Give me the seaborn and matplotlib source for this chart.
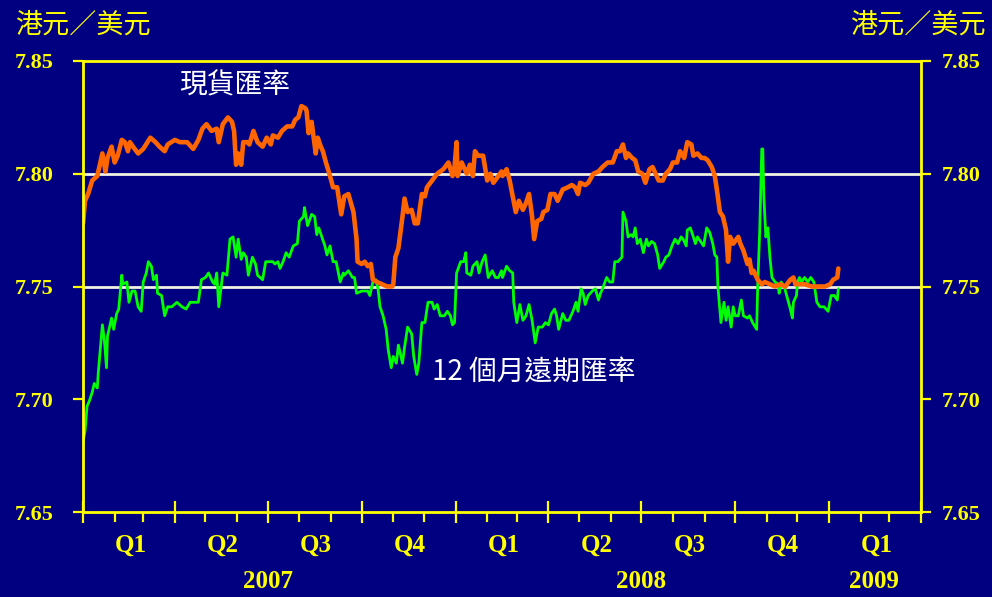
import matplotlib
matplotlib.use("Agg")
import matplotlib.pyplot as plt
import matplotlib.dates as mdates
import matplotlib.ticker as mticker
import pandas as pd
import seaborn as sns

# HKD per USD. days = days counted from 2007-01-01
spot_days = [0, 2, 5, 9, 14, 19, 22, 24, 28, 31,
             34, 38, 41, 44, 46, 49, 54, 59, 66, 71,
             75, 80, 83, 90, 95, 102, 108, 113, 117, 121,
             126, 131, 133, 137, 142, 146, 148, 150, 152, 155,
             157, 161, 163, 167, 171, 176, 180, 184, 186, 191,
             195, 200, 205, 208, 211, 214, 218, 219, 221, 224,
             226, 228, 230, 233, 235, 238, 242, 245, 249, 253,
             256, 260, 265, 268, 269, 273, 276, 279, 282, 284,
             288, 293, 298, 303, 304, 306, 309, 313, 315, 318,
             322, 325, 328, 332, 335, 337, 342, 347, 353, 358,
             362, 364, 366, 367, 371, 376, 379, 382, 384, 387,
             392, 396, 399, 402, 407, 410, 411, 415, 418, 421,
             424, 427, 431, 434, 437, 440, 442, 445, 449, 451,
             455, 458, 462, 465, 470, 475, 479, 482, 485, 487,
             492, 495, 500, 505, 509, 514, 519, 523, 526, 529,
             532, 534, 538, 541, 544, 548, 551, 555, 558, 561,
             564, 568, 571, 575, 578, 582, 585, 589, 592, 596,
             598, 602, 606, 609, 612, 616, 619, 621, 624, 627,
             630, 632, 634, 637, 642, 644, 647, 651, 653, 655,
             657, 661, 665, 668, 673, 678, 683, 688, 693, 696,
             698, 702, 707, 714, 720, 727, 732, 735, 739, 740]
spot_rate = [7.778, 7.788, 7.791, 7.797, 7.799, 7.809, 7.801, 7.807, 7.812, 7.805,
             7.808, 7.815, 7.814, 7.810, 7.814, 7.812, 7.809, 7.811, 7.816, 7.814,
             7.812, 7.810, 7.813, 7.815, 7.814, 7.814, 7.811, 7.815, 7.820, 7.822,
             7.819, 7.820, 7.814, 7.822, 7.825, 7.823, 7.819, 7.804, 7.809, 7.804,
             7.814, 7.814, 7.813, 7.819, 7.814, 7.812, 7.816, 7.813, 7.817, 7.816,
             7.819, 7.821, 7.821, 7.824, 7.825, 7.830, 7.829, 7.828, 7.818, 7.823,
             7.816, 7.809, 7.816, 7.812, 7.810, 7.805, 7.799, 7.794, 7.794, 7.782,
             7.790, 7.791, 7.783, 7.771, 7.761, 7.760, 7.761, 7.759, 7.760, 7.753,
             7.752, 7.751, 7.750, 7.750, 7.751, 7.763, 7.767, 7.781, 7.789, 7.783,
             7.784, 7.778, 7.778, 7.791, 7.790, 7.794, 7.797, 7.800, 7.802, 7.805,
             7.799, 7.803, 7.814, 7.799, 7.805, 7.800, 7.804, 7.799, 7.810, 7.808,
             7.808, 7.797, 7.800, 7.796, 7.799, 7.801, 7.799, 7.802, 7.797, 7.790,
             7.783, 7.788, 7.784, 7.787, 7.791, 7.781, 7.771, 7.779, 7.780, 7.783,
             7.784, 7.791, 7.791, 7.788, 7.793, 7.794, 7.795, 7.794, 7.791, 7.796,
             7.795, 7.796, 7.800, 7.801, 7.803, 7.805, 7.805, 7.810, 7.810, 7.813,
             7.807, 7.809, 7.807, 7.806, 7.801, 7.800, 7.796, 7.802, 7.803, 7.800,
             7.797, 7.797, 7.800, 7.802, 7.805, 7.805, 7.810, 7.807, 7.814, 7.813,
             7.808, 7.809, 7.807, 7.807, 7.806, 7.803, 7.799, 7.793, 7.783, 7.781,
             7.775, 7.761, 7.772, 7.769, 7.772, 7.769, 7.766, 7.760, 7.762, 7.756,
             7.757, 7.753, 7.751, 7.752, 7.751, 7.750, 7.751, 7.750, 7.753, 7.754,
             7.751, 7.751, 7.751, 7.750, 7.750, 7.750, 7.751, 7.753, 7.754, 7.758]

fwd_days = [0, 2, 4, 6, 9, 11, 14, 15, 19, 21,
            23, 24, 28, 30, 33, 35, 38, 39, 43, 45,
            48, 51, 54, 57, 59, 62, 64, 67, 69, 72,
            73, 77, 80, 83, 87, 92, 97, 101, 105, 110,
            113, 116, 120, 123, 127, 129, 131, 133, 137, 141,
            144, 147, 150, 152, 155, 157, 160, 162, 166, 169,
            171, 176, 179, 183, 186, 188, 191, 193, 196, 199,
            202, 206, 210, 212, 216, 217, 220, 224, 227, 229,
            231, 234, 237, 239, 242, 245, 248, 252, 255, 256,
            260, 264, 266, 268, 273, 276, 279, 281, 284, 287,
            289, 291, 294, 297, 299, 302, 304, 307, 309, 313,
            315, 318, 322, 324, 327, 329, 332, 335, 338, 342,
            344, 347, 350, 354, 357, 360, 362, 364, 366, 370,
            373, 375, 376, 380, 382, 386, 388, 391, 394, 397,
            401, 404, 407, 410, 411, 415, 418, 421, 422, 425,
            428, 431, 434, 437, 440, 443, 446, 450, 453, 456,
            459, 462, 464, 466, 470, 473, 476, 480, 483, 485,
            488, 490, 492, 495, 499, 502, 505, 507, 509, 513,
            516, 519, 521, 524, 528, 529, 532, 534, 537, 539,
            541, 543, 546, 549, 552, 554, 557, 560, 563, 565,
            569, 571, 574, 577, 580, 583, 586, 588, 591, 592,
            595, 598, 600, 602, 605, 608, 611, 614, 617, 619,
            621, 622, 625, 628, 630, 632, 635, 637, 639, 642,
            645, 647, 651, 653, 656, 660, 661, 663, 665, 666,
            667, 669, 671, 673, 675, 678, 681, 682, 684, 687,
            690, 693, 695, 696, 699, 700, 702, 704, 707, 710,
            713, 716, 719, 722, 726, 730, 733, 736, 739, 740]
fwd_rate = [7.681, 7.686, 7.697, 7.699, 7.703, 7.707, 7.705, 7.712, 7.733, 7.726,
            7.714, 7.728, 7.736, 7.731, 7.738, 7.740, 7.755, 7.751, 7.752, 7.743,
            7.748, 7.748, 7.741, 7.739, 7.752, 7.756, 7.761, 7.759, 7.753, 7.755,
            7.747, 7.746, 7.737, 7.741, 7.741, 7.743, 7.741, 7.740, 7.743, 7.743,
            7.743, 7.753, 7.754, 7.756, 7.752, 7.751, 7.756, 7.741, 7.756, 7.755,
            7.771, 7.772, 7.763, 7.771, 7.762, 7.765, 7.763, 7.755, 7.763, 7.760,
            7.755, 7.753, 7.761, 7.761, 7.761, 7.760, 7.761, 7.758, 7.761, 7.765,
            7.763, 7.768, 7.769, 7.779, 7.781, 7.785, 7.777, 7.782, 7.781, 7.773,
            7.776, 7.772, 7.768, 7.764, 7.768, 7.761, 7.761, 7.752, 7.756, 7.755,
            7.757, 7.754, 7.754, 7.747, 7.748, 7.748, 7.748, 7.746, 7.752, 7.753,
            7.749, 7.741, 7.737, 7.731, 7.722, 7.714, 7.719, 7.716, 7.724, 7.716,
            7.723, 7.732, 7.729, 7.719, 7.711, 7.716, 7.734, 7.734, 7.743, 7.743,
            7.740, 7.742, 7.737, 7.737, 7.739, 7.737, 7.733, 7.734, 7.756, 7.761,
            7.761, 7.765, 7.756, 7.755, 7.759, 7.761, 7.756, 7.761, 7.764, 7.754,
            7.757, 7.754, 7.754, 7.757, 7.754, 7.759, 7.757, 7.756, 7.743, 7.734,
            7.742, 7.735, 7.737, 7.742, 7.735, 7.725, 7.732, 7.732, 7.734, 7.733,
            7.738, 7.740, 7.737, 7.731, 7.738, 7.735, 7.735, 7.739, 7.743, 7.739,
            7.749, 7.747, 7.742, 7.746, 7.748, 7.749, 7.744, 7.747, 7.749, 7.754,
            7.752, 7.752, 7.761, 7.761, 7.763, 7.783, 7.779, 7.772, 7.773, 7.772,
            7.776, 7.769, 7.771, 7.765, 7.771, 7.768, 7.770, 7.769, 7.764, 7.758,
            7.761, 7.763, 7.764, 7.768, 7.771, 7.769, 7.772, 7.771, 7.768, 7.775,
            7.776, 7.772, 7.769, 7.772, 7.770, 7.768, 7.776, 7.774, 7.769, 7.764,
            7.763, 7.750, 7.734, 7.743, 7.735, 7.741, 7.732, 7.741, 7.737, 7.737,
            7.744, 7.737, 7.736, 7.737, 7.734, 7.731, 7.750, 7.775, 7.811, 7.811,
            7.790, 7.772, 7.776, 7.763, 7.754, 7.752, 7.751, 7.747, 7.752, 7.750,
            7.745, 7.740, 7.736, 7.743, 7.746, 7.752, 7.754, 7.752, 7.754, 7.752,
            7.754, 7.752, 7.743, 7.741, 7.741, 7.739, 7.746, 7.746, 7.744, 7.749]

y_ticks = [7.65, 7.70, 7.75, 7.80, 7.85]
ref_lines = [7.80, 7.75]
quarter_labels = ["Q1", "Q2", "Q3", "Q4", "Q1", "Q2", "Q3", "Q4", "Q1"]
year_labels = ["2007", "2008", "2009"]
year_centres = ["2007-07-01", "2008-07-01", "2009-02-14"]
unit_label = "港元／美元"
spot_label = "現貨匯率"
fwd_label = "12 個月遠期匯率"

NAVY = "#000080"
YELLOW = "#FFFF00"
ORANGE = "#FF6600"
GREEN = "#00FF00"
GRID = "#F2F2E4"

sns.set_theme(style="ticks")
plt.rcParams["font.family"] = ["Noto Sans CJK TC", "DejaVu Sans"]
cjk = ["Noto Sans CJK TC", "DejaVu Sans"]

start = pd.Timestamp("2007-01-01")
spot = pd.DataFrame({"date": start + pd.to_timedelta(spot_days, unit="D"), "rate": spot_rate})
fwd = pd.DataFrame({"date": start + pd.to_timedelta(fwd_days, unit="D"), "rate": fwd_rate})

fig = plt.figure(figsize=(9.92, 5.97), dpi=100, facecolor=NAVY)
ax = fig.add_axes([83 / 992, 1 - 512 / 597, (921 - 83) / 992, (512 - 61) / 597])
ax.set_facecolor(NAVY)

for v in ref_lines:
    ax.axhline(v, color=GRID, lw=2.0, zorder=1)

sns.lineplot(data=fwd, x="date", y="rate", ax=ax, color=GREEN, linewidth=2.0,
             errorbar=None, zorder=3)
sns.lineplot(data=spot, x="date", y="rate", ax=ax, color=ORANGE, linewidth=3.3,
             errorbar=None, zorder=4)

ax.set_xlim(pd.Timestamp("2007-01-01"), pd.Timestamp("2009-04-01"))
ax.set_ylim(y_ticks[0], y_ticks[-1])
ax.set_xlabel("")
ax.set_ylabel("")

for side in ["left", "right", "top", "bottom"]:
    ax.spines[side].set_visible(True)
    ax.spines[side].set_color(YELLOW)
    ax.spines[side].set_linewidth(2.0)
    ax.spines[side].set_zorder(5)

# x axis: quarter ticks crossing the axis, month ticks below
ax.xaxis.set_major_locator(mdates.MonthLocator(bymonth=(1, 4, 7, 10)))
ax.xaxis.set_minor_locator(mdates.MonthLocator())
ax.xaxis.set_major_formatter(mticker.NullFormatter())
ax.tick_params(axis="x", which="major", direction="inout", length=16, width=1.6,
               color=YELLOW, bottom=True, top=False)
ax.tick_params(axis="x", which="minor", direction="out", length=7, width=1.6,
               color=YELLOW, bottom=True, top=False)

tick_font = dict(family="Liberation Serif", weight="bold", size=16)
ax.set_yticks(y_ticks)
ax.yaxis.set_major_formatter(mticker.FormatStrFormatter("%.2f"))
ax.tick_params(axis="y", direction="out", length=7, width=1.6, color=YELLOW,
               labelcolor=YELLOW, pad=14)
for lab in ax.get_yticklabels():
    lab.set_fontproperties(tick_font)

ax2 = ax.twinx()
ax2.set_ylim(y_ticks[0], y_ticks[-1])
ax2.set_yticks(y_ticks)
ax2.yaxis.set_major_formatter(mticker.FormatStrFormatter("%.2f"))
ax2.tick_params(axis="y", direction="out", length=7, width=1.6, color=YELLOW,
                labelcolor=YELLOW, pad=8)
for lab in ax2.get_yticklabels():
    lab.set_fontproperties(tick_font)
for side in ax2.spines:
    ax2.spines[side].set_visible(False)
ax2.patch.set_visible(False)

# quarter and year labels under the axis
xtrans = ax.get_xaxis_transform()
q_starts = pd.date_range("2007-01-01", periods=len(quarter_labels), freq="QS")
for q, s in zip(quarter_labels, q_starts):
    ax.text(s + pd.Timedelta(days=47), -0.073, q, transform=xtrans, ha="center",
            va="center", color=YELLOW, family="Liberation Serif", weight="bold",
            size=18)
for yl, c in zip(year_labels, year_centres):
    ax.text(pd.Timestamp(c), -0.153, yl, transform=xtrans, ha="center",
            va="center", color=YELLOW, family="Liberation Serif", weight="bold",
            size=18)

# series captions
ax.text(pd.Timestamp("2007-05-30"), 7.8393, spot_label, ha="center", va="center",
        color="white", family=cjk, size=20)
ax.text(pd.Timestamp("2007-12-09"), 7.712, fwd_label, ha="left", va="center",
        color="white", family=cjk, size=20)

# unit captions
fig.text(15 / 992, 1 - 25 / 597, unit_label, ha="left", va="center",
         color=YELLOW, family=cjk, size=19.5)
fig.text(986 / 992, 1 - 25 / 597, unit_label, ha="right", va="center",
         color=YELLOW, family=cjk, size=19.5)

fig.savefig("out.png", dpi=100, facecolor=NAVY)
